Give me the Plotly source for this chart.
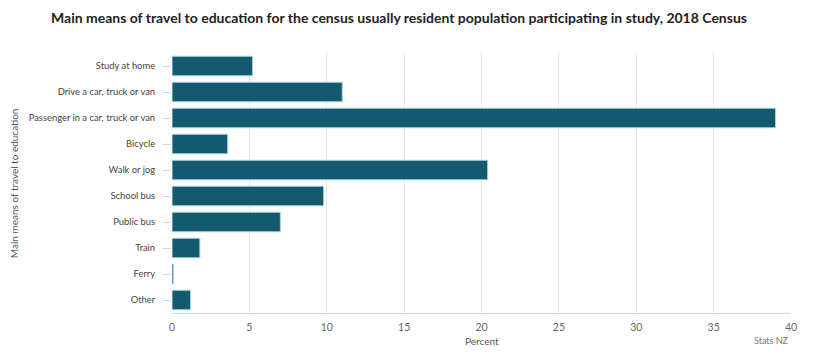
import plotly.graph_objects as go

categories = ["Study at home", "Drive a car, truck or van", "Passenger in a car, truck or van",
              "Bicycle", "Walk or jog", "School bus", "Public bus", "Train", "Ferry", "Other"]
percent = [5.2, 11.0, 39.0, 3.6, 20.4, 9.8, 7.0, 1.8, 0.1, 1.2]
x_ticks = [0, 5, 10, 15, 20, 25, 30, 35, 40]

fig = go.Figure()
fig.add_trace(go.Bar(
    y=categories, x=percent, orientation="h",
    marker=dict(color="#135a6e", line=dict(color="#a9d3e0", width=1)),
    hoverinfo="x+y",
))

fig.update_layout(
    width=812, height=349,
    margin=dict(l=164, r=29, t=45, b=44, autoexpand=False),
    paper_bgcolor="white", plot_bgcolor="white",
    font=dict(family="Lato, sans-serif", color="#555555", size=10),
    title=dict(text="<b>Main means of travel to education for the census usually resident population participating in study, 2018 Census</b>",
               x=0.4815, xanchor="center", y=0.971, yanchor="middle",
               font=dict(size=14, color="#222222", family="Lato, sans-serif")),
    bargap=0.25,
    showlegend=False,
    xaxis=dict(range=[0, 40], tickvals=x_ticks, showgrid=True, gridcolor="#e6e6e6", gridwidth=1,
               zeroline=False, showline=True, linecolor="#ccd6eb", ticks="", ticklen=0,
               automargin=False, ticklabelstandoff=4,
               tickfont=dict(size=10.5, color="#666666")),
    yaxis=dict(autorange="reversed", showgrid=False, zeroline=False, showline=False,
               ticks="outside", ticklen=8, tickcolor="#ccd6eb", automargin=False,
               ticklabelstandoff=6,
               tickfont=dict(size=9.4, color="#444444")),
)
fig.add_annotation(text="Percent", xref="paper", yref="paper", x=0.5, y=-0.108, xanchor="center", yanchor="middle",
                   showarrow=False, font=dict(size=10, color="#555555"))
fig.add_annotation(text="Main means of travel to education", xref="paper", yref="paper", x=-0.255, xanchor="center",
                   y=0.5, yanchor="middle", textangle=-90,
                   showarrow=False, font=dict(size=10, color="#555555"))
fig.add_annotation(text="Stats NZ", xref="paper", yref="paper", x=1, y=-0.104, xanchor="right", yanchor="middle",
                   showarrow=False, font=dict(size=9, color="#777777"))
fig.write_html("out.html")
